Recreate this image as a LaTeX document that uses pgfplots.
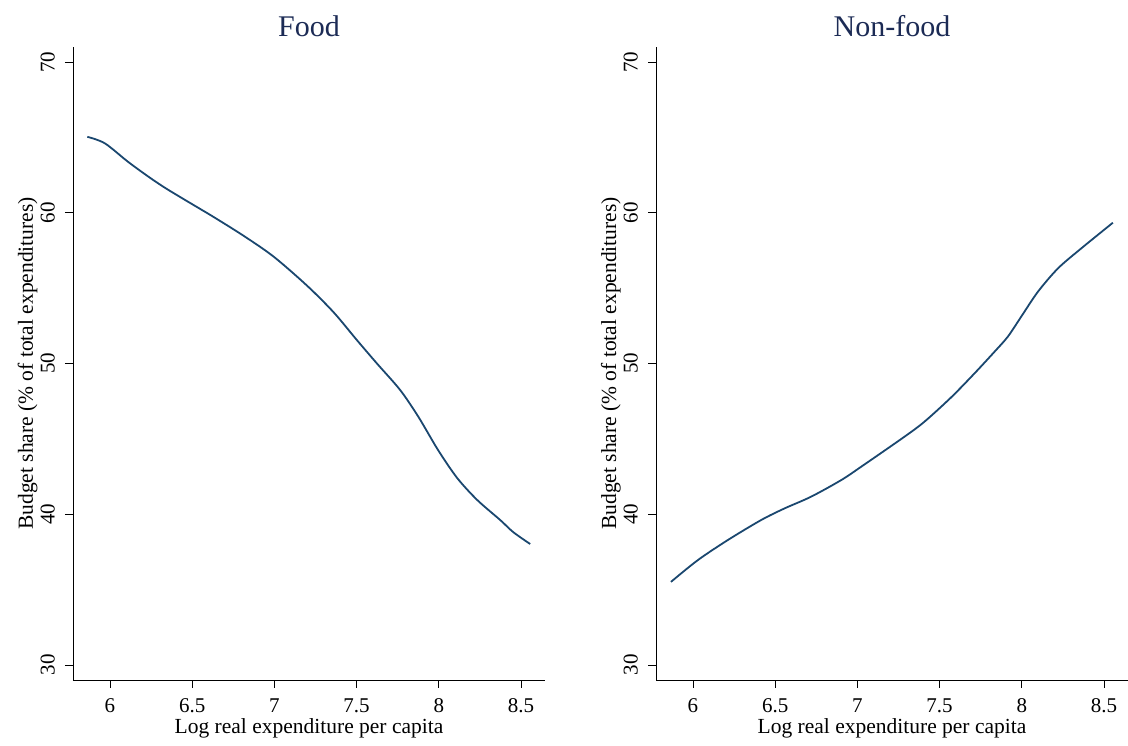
\documentclass[border=0pt]{standalone}
\usepackage{pgfplots}
\pgfplotsset{compat=1.18}
\usepackage{fontspec}
\setmainfont{Liberation Serif}
\definecolor{stnavy}{HTML}{1A476F}
\definecolor{sttitle}{HTML}{1C2B55}
\pgfplotsset{
  mystyle/.style={
    scale only axis, width=472pt, height=633pt,
    xmin=5.775, xmax=8.646, ymin=29, ymax=71,
    axis x line*=bottom, axis y line*=left,
    axis line style={line width=0.8pt, -},
    xtick={6,6.5,7,7.5,8,8.5}, ytick={30,40,50,60,70},
    xticklabels={6,6.5,7,7.5,8,8.5},
    tick style={black, line width=0.8pt},
    tick align=outside, major tick length=8pt,
    /pgf/number format/assume math mode=true,
    ticklabel style={font=\fontsize{21}{24}\selectfont},
    yticklabel style={rotate=90, anchor=south, inner sep=0pt, yshift=10pt},
    xticklabel style={anchor=base, inner sep=0pt, yshift=-25pt},
    xlabel={Log real expenditure per capita},
    ylabel={Budget share (\% of total expenditures)},
    label style={font=\fontsize{21.5}{24}\selectfont},
    xlabel style={at={(axis description cs:0.5,0)}, anchor=base, yshift=-54pt, inner sep=0pt},
    ylabel style={at={(axis description cs:0,0.5)}, anchor=base, yshift=40pt, inner sep=0pt},
    title style={font=\fontsize{30}{34}\selectfont, text=sttitle, at={(axis description cs:0.5,1)}, anchor=base, yshift=4pt, inner sep=0pt},
    clip=false,
  }
}
\begin{document}
\begin{tikzpicture}
\useasboundingbox (-73pt,-66pt) rectangle (1055pt,680pt);
\begin{axis}[mystyle, at={(0,0)}, anchor=south west, title={Food}]
\addplot[stnavy, line width=1.8pt, smooth, tension=0.5] coordinates {
(5.862,65.04) (5.970,64.60) (6.122,63.28) (6.324,61.73) (6.629,59.73)
(6.83,58.35) (7.0,57.05) (7.2,55.15) (7.36,53.4)
(7.502,51.55) (7.623,50.01) (7.765,48.24) (7.876,46.46) (7.996,44.25)
(8.112,42.40) (8.234,40.94) (8.374,39.61) (8.453,38.81) (8.556,38.02)};
\end{axis}
\begin{axis}[mystyle, at={(583pt,0)}, anchor=south west, title={Non-food}]
\addplot[stnavy, line width=1.8pt, smooth, tension=0.5] coordinates {
(5.866,35.51) (6.029,36.95) (6.211,38.28) (6.414,39.61) (6.556,40.38)
(6.718,41.16) (6.901,42.26) (7.023,43.15) (7.286,45.14) (7.408,46.14)
(7.570,47.75) (7.712,49.34) (7.834,50.78) (7.915,51.78) (7.996,53.10)
(8.098,54.76) (8.220,56.31) (8.362,57.64) (8.554,59.34)};
\end{axis}
\end{tikzpicture}
\end{document}
